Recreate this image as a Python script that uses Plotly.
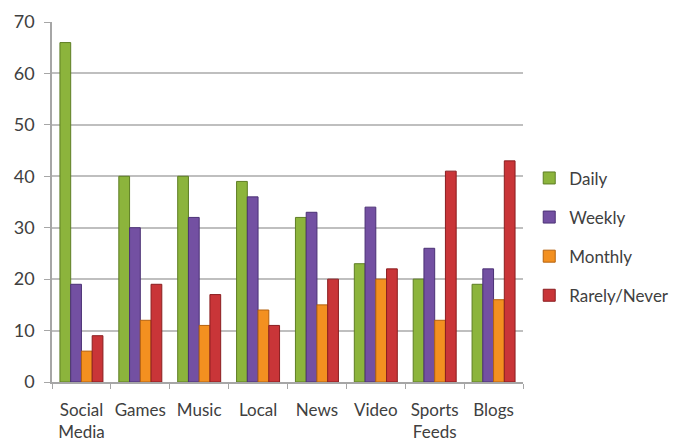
import plotly.graph_objects as go

categories = ["Social<br>Media", "Games", "Music", "Local", "News", "Video", "Sports<br>Feeds", "Blogs"]
daily = [66, 40, 40, 39, 32, 23, 20, 19]
weekly = [19, 30, 32, 36, 33, 34, 26, 22]
monthly = [6, 12, 11, 14, 15, 20, 12, 16]
rarely_never = [9, 19, 17, 11, 20, 22, 41, 43]
y_ticks = [0, 10, 20, 30, 40, 50, 60, 70]

series = [
    ("Daily", daily, "#8CB43C", "#5E7E24"),
    ("Weekly", weekly, "#7350A2", "#4B3175"),
    ("Monthly", monthly, "#F39020", "#B5620E"),
    ("Rarely/Never", rarely_never, "#C93538", "#8A1E20"),
]

fig = go.Figure()
for i, (name, vals, color, edge) in enumerate(series):
    fig.add_trace(go.Bar(
        x=categories, y=vals, name=name,
        marker=dict(color=color, line=dict(color=edge, width=1)),
        legendgroup=f"g{i}",
    ))

font_family = "Lato, 'Open Sans', sans-serif"
fig.update_layout(
    width=682, height=447,
    margin=dict(l=52, r=159, t=22, b=65, autoexpand=False),
    paper_bgcolor="white", plot_bgcolor="white",
    barmode="group", bargap=0.27, bargroupgap=0,
    font=dict(family=font_family, size=17, color="#404040"),
    showlegend=True,
    legend=dict(
        xref="container", yref="container",
        x=0.776, y=0.47, xanchor="left", yanchor="middle",
        font=dict(size=17, color="#404040"),
        tracegroupgap=14, itemwidth=30,
    ),
    xaxis=dict(
        showline=True, linecolor="#A6A6A6", linewidth=1.5,
        ticks="outside", ticklen=5, tickcolor="#A6A6A6",
        tickson="boundaries", showgrid=False,
        tickangle=0, automargin=False, ticklabelstandoff=12,
        tickfont=dict(size=17, color="#404040"),
    ),
    yaxis=dict(
        range=[0, 70], tickvals=y_ticks,
        showline=True, linecolor="#A6A6A6", linewidth=1.5,
        ticks="outside", ticklen=6, tickcolor="#A6A6A6",
        showgrid=True, gridcolor="#BFBFBF", gridwidth=1.5,
        zeroline=False, automargin=False, ticklabelstandoff=6,
        tickfont=dict(size=18, color="#404040"),
    ),
)

fig.write_html("out.html")
